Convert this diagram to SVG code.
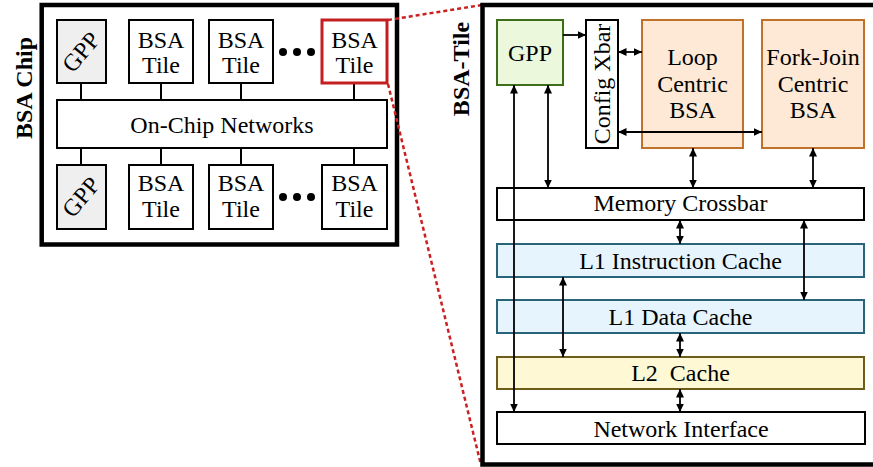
<svg xmlns="http://www.w3.org/2000/svg" width="873" height="467" viewBox="0 0 873 467">
<style>
text{font-family:"Liberation Serif","Times New Roman",serif;font-size:24px;fill:#000;text-anchor:middle}
.b{font-weight:bold}
.box{fill:#fff;stroke:#000;stroke-width:2}
.gray{fill:#efefef;stroke:#000;stroke-width:2}
.grn{fill:#ecf8dc;stroke:#3f6e1a;stroke-width:2}
.org{fill:#fde9d6;stroke:#c0722a;stroke-width:2}
.l1{fill:#e6f4fd;stroke:#2a6478;stroke-width:2}
.l2{fill:#fef8d4;stroke:#6e5d1a;stroke-width:2}
.frame{fill:none;stroke:#000;stroke-width:4.5}
.ln{stroke:#000;stroke-width:2;fill:none}
.ar{stroke:#000;stroke-width:1.8;fill:none;marker-end:url(#ah)}
.da{stroke:#000;stroke-width:1.8;fill:none;marker-start:url(#ah);marker-end:url(#ah)}
.red{stroke:#cc1f1f;stroke-width:2.5;fill:none;stroke-dasharray:4 3}
</style>
<defs>
<marker id="ah" markerUnits="userSpaceOnUse" markerWidth="10" markerHeight="9" refX="8.5" refY="4" orient="auto-start-reverse">
<path d="M0,0 L8.5,4 L0,8 z" fill="#000"/>
</marker>
</defs>

<!-- Left chip -->
<g id="chip">
<rect class="frame" x="41.7" y="5" width="355.3" height="239.5"/>
<text class="b" transform="translate(32,88) rotate(-90)">BSA Chip</text>
</g>
<g id="chip-links">
<path class="ln" d="M81,83V100M161,83V100M241,83V100M354,83V100M81,148V165M161,148V165M241,148V165M354,148V165"/>
</g>
<g id="gpp-top">
<rect class="gray" x="57" y="20" width="49" height="63"/>
<text transform="translate(81,52) rotate(-50)" dy="8">GPP</text>
</g>
<g id="tile-t1"><rect class="box" x="129" y="20" width="64" height="63"/><text x="161" y="48">BSA</text><text x="161" y="73">Tile</text></g>
<g id="tile-t2"><rect class="box" x="209" y="20" width="64" height="63"/><text x="241" y="48">BSA</text><text x="241" y="73">Tile</text></g>
<g id="dots-top"><circle cx="283" cy="52" r="4"/><circle cx="297" cy="52" r="4"/><circle cx="311" cy="52" r="4"/></g>
<g id="tile-t3"><rect x="322" y="20" width="65" height="63" fill="#fff" stroke="#c41e1e" stroke-width="3"/><text x="354.5" y="48">BSA</text><text x="354.5" y="73">Tile</text></g>
<g id="onchip"><rect class="box" x="57" y="100" width="330" height="48"/><text x="222" y="133">On-Chip Networks</text></g>
<g id="gpp-bot">
<rect class="gray" x="57" y="165" width="49" height="64"/>
<text transform="translate(81,197) rotate(-50)" dy="8">GPP</text>
</g>
<g id="tile-b1"><rect class="box" x="129" y="165" width="64" height="64"/><text x="161" y="191">BSA</text><text x="161" y="217">Tile</text></g>
<g id="tile-b2"><rect class="box" x="209" y="165" width="64" height="64"/><text x="241" y="191">BSA</text><text x="241" y="217">Tile</text></g>
<g id="dots-bot"><circle cx="283" cy="197" r="4"/><circle cx="297" cy="197" r="4"/><circle cx="311" cy="197" r="4"/></g>
<g id="tile-b3"><rect class="box" x="322" y="165" width="65" height="64"/><text x="354.5" y="191">BSA</text><text x="354.5" y="217">Tile</text></g>

<!-- zoom lines -->
<g id="zoom-lines">
<path class="red" d="M388,20 L482,5"/>
<path class="red" d="M388,84 L481,465"/>
</g>

<!-- Right tile -->
<g id="tile">
<rect class="frame" x="482.5" y="5" width="395" height="459.5"/>
<text class="b" transform="translate(469,69) rotate(-90)">BSA-Tile</text>
</g>
<g id="gpp"><rect class="grn" x="497" y="20" width="66" height="65"/><text x="530" y="61">GPP</text></g>
<g id="xbar"><rect class="box" x="586" y="20" width="32" height="128"/><text transform="translate(610,84) rotate(-90)">Config Xbar</text></g>
<g id="loop"><rect class="org" x="642" y="20" width="101" height="128"/><text x="692.5" y="65">Loop</text><text x="692.5" y="92">Centric</text><text x="692.5" y="118">BSA</text></g>
<g id="fork"><rect class="org" x="762" y="20" width="102" height="128"/><text x="813" y="65">Fork-Join</text><text x="813" y="92">Centric</text><text x="813" y="118">BSA</text></g>
<g id="mem"><rect class="box" x="497" y="188" width="367" height="32"/><text x="680.5" y="211">Memory Crossbar</text></g>
<g id="l1i"><rect class="l1" x="497" y="244" width="367" height="33"/><text x="680.5" y="269">L1 Instruction Cache</text></g>
<g id="l1d"><rect class="l1" x="497" y="300" width="367" height="33"/><text x="680.5" y="325">L1 Data Cache</text></g>
<g id="l2"><rect class="l2" x="497" y="357" width="367" height="32"/><text x="680.5" y="381">L2 &#160;Cache</text></g>
<g id="net"><rect class="box" x="497" y="412" width="368" height="32"/><text x="681" y="437">Network Interface</text></g>

<g id="connectors">
<path class="ar" d="M563,35 H586"/>
<path class="da" d="M618,52 H642"/>
<path class="da" d="M618,132 H762"/>
<path class="da" d="M548,85 V188"/>
<path class="da" d="M514,85 V412"/>
<path class="da" d="M693,148 V188"/>
<path class="da" d="M813,148 V188"/>
<path class="da" d="M680,220 V244"/>
<path class="da" d="M804,220 V300"/>
<path class="da" d="M563,277 V357"/>
<path class="da" d="M680,333 V357"/>
<path class="da" d="M680,389 V412"/>
</g>
</svg>
